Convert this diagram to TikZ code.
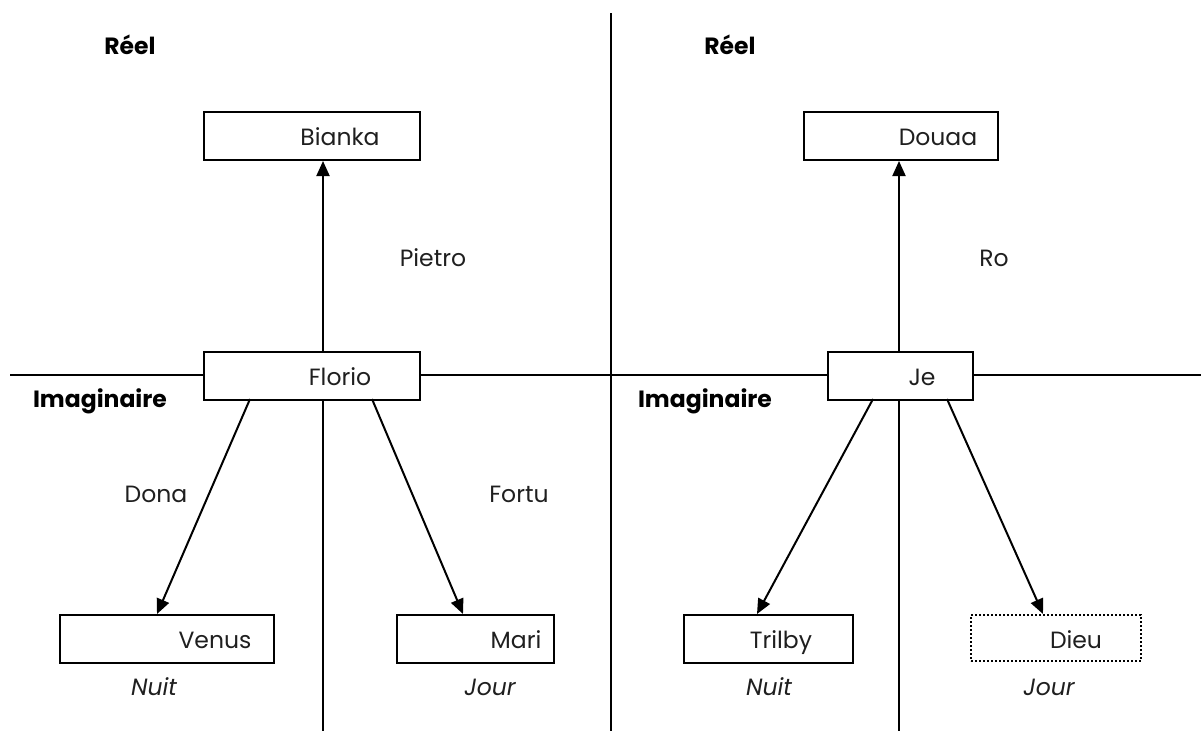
\documentclass[tikz,border=0pt]{standalone}
\usepackage{fontspec}
\setmainfont{Poppins}
\usetikzlibrary{arrows.meta}
\begin{document}
\begin{tikzpicture}[x=1pt,y=-1pt,
  line/.style={line width=2pt},
  box/.style={draw,line width=2pt,fill=white,inner sep=0pt,anchor=north west},
  dotbox/.style={box,dash pattern=on 2pt off 2pt,line width=2.4pt},
  arr/.style={line width=2pt,-{Triangle[length=15pt,width=13pt]}},
  txt/.style={font=\fontsize{23.5}{26}\selectfont,inner sep=0pt,anchor=base,text=black!88},
  hd/.style={txt,font=\fontsize{23.5}{26}\selectfont\bfseries,text=black},
  it/.style={txt,font=\fontsize{23.5}{26}\selectfont\itshape}]
\useasboundingbox (0,0) rectangle (1201,731);
% axes
\draw[line] (10,375) -- (1201,375);
\draw[line] (611,13) -- (611,731);
% boxes
\node[box,minimum width=216pt,minimum height=48pt] (bianka) at (203,111) {};
\node[box,minimum width=216pt,minimum height=48pt] (florio) at (203,351) {};
\node[box,minimum width=194pt,minimum height=48pt] (douaa) at (803,111) {};
\node[box,minimum width=145pt,minimum height=48pt] (je) at (827,351) {};
\node[box,minimum width=214pt,minimum height=48pt] (venus) at (59,614) {};
\node[box,minimum width=157pt,minimum height=48pt] (mari) at (396,614) {};
\node[box,minimum width=169pt,minimum height=48pt] (trilby) at (683,614) {};
\node[dotbox,minimum width=170pt,minimum height=46pt] (dieu) at (970,614) {};
% box texts
\node[txt] (tbianka) at (340,145) {Bianka};
\node[txt] (tflorio) at (340,385) {Florio};
\node[txt] (tdouaa) at (938,145) {Douaa};
\node[txt] (tje) at (922,385) {Je};
\node[txt] (tvenus) at (215,648) {Venus};
\node[txt] (tmari) at (516,648) {Mari};
\begin{scope}
\clip (683,614) rectangle (852,654);
\node[txt] (ttrilby) at (781,648) {Trilby};
\end{scope}
\begin{scope}
\clip (970,614) rectangle (1140,653);
\node[txt] (tdieu) at (1076,648) {Dieu};
\end{scope}
% verticals below
\coordinate (lb) at (323,731);
\coordinate (rb) at (899,731);
\draw[line] (florio.south -| lb) -- (lb);
\draw[line] (je.south -| rb) -- (rb);
% arrows
\draw[arr] (florio.north -| 323,0) -- (bianka.south -| 323,0);
\draw[arr] (je.north -| 899,0) -- (douaa.south -| 899,0);
\coordinate (f1) at (250,399); \coordinate (v1) at (157,614);
\coordinate (f2) at (372,399); \coordinate (m1) at (463,614);
\coordinate (j1) at (873,399); \coordinate (t1) at (757,614);
\coordinate (j2) at (947,399); \coordinate (d1) at (1043,614);
\draw[arr] (f1) -- (v1);
\draw[arr] (f2) -- (m1);
\draw[arr] (j1) -- (t1);
\draw[arr] (j2) -- (d1);
% labels
\node[hd] (r1) at (130,54) {Réel};
\node[hd] (r2) at (730,54) {Réel};
\node[hd] (i1) at (100,407) {Imaginaire};
\node[hd] (i2) at (705,407) {Imaginaire};
\node[txt] (pietro) at (433,266) {Pietro};
\node[txt] (ro) at (994,266) {Ro};
\node[txt] (dona) at (156,502) {Dona};
\node[txt] (fortu) at (519,502) {Fortu};
\node[it] (n1) at (154,695) {Nuit};
\node[it] (j1l) at (490,695) {Jour};
\node[it] (n2) at (769,695) {Nuit};
\node[it] (j2l) at (1049,695) {Jour};
\end{tikzpicture}
\end{document}
